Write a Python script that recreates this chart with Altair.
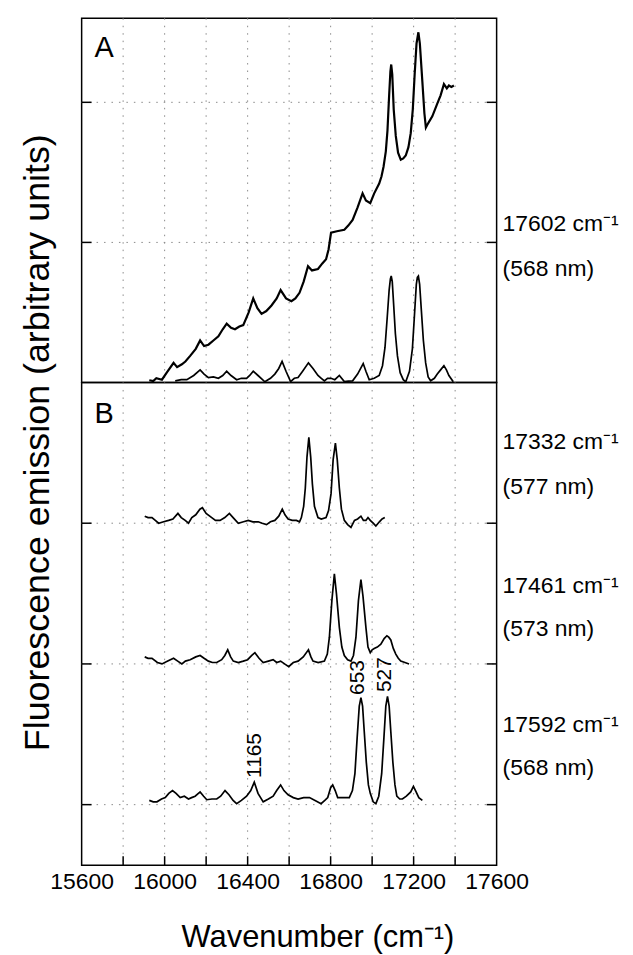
import altair as alt
import pandas as pd

FONT = "Liberation Sans"
W, HA, HB = 417, 366, 485

# ---------------- data ----------------
x_grid = [15800, 16000, 16200, 16400, 16600, 16800, 17000, 17200, 17400]
x_label_values = [15600, 16000, 16400, 16800, 17200, 17600]
yA_ticks = [1, 2]
yB_ticks = [0, 1, 2]

# Panel A: 17602 cm-1 excitation, raw (upper) and background-subtracted (lower)
A_raw = [(15926, 0.016), (15945, 0.01), (15960, 0.03), (15987, 0.02), (16010, 0.07), (16043, 0.14),
         (16060, 0.11), (16083, 0.13), (16100, 0.15), (16123, 0.19), (16150, 0.24), (16171, 0.30),
         (16190, 0.26), (16211, 0.27), (16235, 0.30), (16259, 0.33), (16280, 0.38), (16299, 0.42),
         (16320, 0.39), (16339, 0.38), (16360, 0.40), (16379, 0.41), (16405, 0.50), (16427, 0.60),
         (16447, 0.53), (16467, 0.49), (16490, 0.51), (16515, 0.55), (16540, 0.60), (16559, 0.66),
         (16585, 0.60), (16611, 0.58), (16630, 0.60), (16650, 0.64), (16670, 0.72), (16691, 0.83),
         (16710, 0.80), (16739, 0.81), (16760, 0.85), (16778, 0.88), (16790, 0.95), (16802, 1.07),
         (16830, 1.08), (16866, 1.09), (16885, 1.12), (16906, 1.16), (16930, 1.25), (16954, 1.35),
         (16970, 1.30), (16991, 1.28), (17010, 1.35), (17034, 1.42), (17045, 1.47), (17055, 1.54),
         (17066, 1.65), (17074, 1.80), (17082, 2.05), (17088, 2.22), (17092, 2.27), (17097, 2.20),
         (17104, 1.95), (17114, 1.76), (17125, 1.64), (17138, 1.59), (17150, 1.60), (17162, 1.62),
         (17175, 1.68), (17186, 1.78), (17196, 1.95), (17205, 2.20), (17214, 2.42), (17223, 2.50),
         (17230, 2.42), (17242, 2.15), (17252, 1.92), (17259, 1.82), (17266, 1.84), (17274, 1.86),
         (17290, 1.90), (17314, 1.99), (17330, 2.05), (17346, 2.13), (17360, 2.10), (17370, 2.12),
         (17382, 2.11), (17394, 2.12)]
A_sub = [(16051, 0.012), (16080, 0.02), (16107, 0.02), (16140, 0.05), (16171, 0.09), (16190, 0.06),
         (16211, 0.035), (16235, 0.04), (16259, 0.03), (16280, 0.05), (16299, 0.08), (16320, 0.05),
         (16347, 0.02), (16370, 0.03), (16395, 0.03), (16410, 0.05), (16427, 0.08), (16450, 0.05),
         (16483, 0.005), (16510, 0.03), (16531, 0.06), (16550, 0.10), (16566, 0.15), (16585, 0.08),
         (16607, 0.007), (16625, 0.03), (16643, 0.035), (16665, 0.08), (16693, 0.14), (16715, 0.10),
         (16739, 0.05), (16755, 0.03), (16770, 0.012), (16785, 0.03), (16802, 0.03), (16820, 0.02),
         (16842, 0.05), (16866, 0.007), (16885, 0.01), (16906, 0.012), (16930, 0.06), (16957, 0.135),
         (16970, 0.08), (16986, 0.02), (17010, 0.03), (17034, 0.05), (17050, 0.12), (17062, 0.25),
         (17072, 0.45), (17082, 0.66), (17088, 0.74), (17092, 0.76), (17097, 0.72), (17104, 0.55),
         (17112, 0.35), (17122, 0.19), (17135, 0.07), (17150, 0.02), (17162, 0.005), (17180, 0.08),
         (17194, 0.24), (17204, 0.48), (17213, 0.70), (17218, 0.75), (17223, 0.76), (17229, 0.70),
         (17237, 0.52), (17247, 0.30), (17258, 0.14), (17270, 0.04), (17282, 0.012), (17300, 0.03),
         (17314, 0.06), (17330, 0.09), (17346, 0.12), (17358, 0.09), (17370, 0.05), (17391, 0.005)]

# Panel B: three excitation wavelengths, offset by 1 unit each
B_17332 = [(15904, 2.05), (15920, 2.04), (15939, 2.04), (15955, 2.02), (15971, 2.00), (15995, 2.01),
           (16019, 2.02), (16040, 2.03), (16064, 2.07), (16080, 2.04), (16099, 2.02), (16115, 2.00),
           (16131, 2.04), (16150, 2.06), (16170, 2.10), (16182, 2.11), (16200, 2.07), (16227, 2.04),
           (16245, 2.02), (16267, 2.02), (16290, 2.04), (16312, 2.07), (16330, 2.04), (16355, 2.00),
           (16380, 2.01), (16403, 2.02), (16425, 2.01), (16451, 2.01), (16470, 2.00), (16491, 1.99),
           (16510, 2.01), (16531, 2.02), (16550, 2.05), (16567, 2.10), (16580, 2.06), (16595, 2.03),
           (16615, 2.02), (16635, 2.02), (16650, 2.01), (16659, 2.04), (16670, 2.12), (16678, 2.25),
           (16686, 2.47), (16695, 2.61), (16704, 2.47), (16712, 2.28), (16722, 2.12), (16739, 2.04),
           (16755, 2.03), (16778, 2.04), (16790, 2.09), (16802, 2.21), (16812, 2.45), (16823, 2.57),
           (16832, 2.45), (16842, 2.25), (16852, 2.10), (16866, 2.02), (16882, 1.99), (16898, 1.97),
           (16915, 2.02), (16930, 2.03), (16946, 2.05), (16958, 2.02), (16970, 2.02), (16980, 2.04),
           (16991, 2.02), (17005, 2.00), (17018, 1.98), (17035, 2.01), (17048, 2.03), (17061, 2.04)]
B_17461 = [(15904, 1.05), (15920, 1.04), (15939, 1.04), (15965, 1.01), (15987, 1.00), (16015, 1.02),
           (16043, 1.04), (16063, 1.02), (16083, 1.00), (16100, 1.02), (16123, 1.03), (16150, 1.05),
           (16171, 1.06), (16190, 1.04), (16211, 1.02), (16230, 1.01), (16251, 1.01), (16275, 1.03),
           (16290, 1.06), (16304, 1.10), (16318, 1.05), (16331, 1.02), (16355, 1.01), (16379, 1.02),
           (16400, 1.03), (16420, 1.06), (16435, 1.08), (16455, 1.04), (16475, 1.01), (16500, 1.02),
           (16523, 1.03), (16540, 1.01), (16559, 1.02), (16578, 1.00), (16598, 0.98), (16620, 1.01),
           (16643, 1.02), (16668, 1.05), (16693, 1.10), (16705, 1.05), (16715, 1.02), (16740, 1.01),
           (16770, 1.02), (16784, 1.07), (16794, 1.19), (16806, 1.45), (16818, 1.64), (16828, 1.50),
           (16842, 1.26), (16854, 1.12), (16866, 1.06), (16882, 1.03), (16898, 1.02), (16910, 1.06),
           (16922, 1.19), (16934, 1.45), (16946, 1.60), (16956, 1.48), (16970, 1.26), (16980, 1.12),
           (16991, 1.08), (17000, 1.10), (17010, 1.11), (17025, 1.12), (17042, 1.14), (17058, 1.18),
           (17071, 1.20), (17080, 1.19), (17090, 1.17), (17102, 1.11), (17114, 1.07), (17126, 1.04),
           (17138, 1.02), (17158, 1.01), (17178, 1.00)]
B_17592 = [(15926, 0.03), (15945, 0.02), (15963, 0.02), (15985, 0.04), (16003, 0.05), (16020, 0.08),
           (16038, 0.10), (16055, 0.08), (16075, 0.05), (16095, 0.06), (16115, 0.04), (16130, 0.05),
           (16147, 0.06), (16171, 0.09), (16188, 0.06), (16203, 0.035), (16228, 0.04), (16251, 0.04),
           (16270, 0.06), (16291, 0.10), (16310, 0.07), (16330, 0.03), (16347, 0.007), (16370, 0.03),
           (16395, 0.06), (16415, 0.10), (16432, 0.16), (16450, 0.08), (16475, 0.02), (16500, 0.04),
           (16523, 0.06), (16540, 0.10), (16559, 0.14), (16575, 0.10), (16595, 0.07), (16620, 0.05),
           (16643, 0.04), (16670, 0.05), (16698, 0.05), (16725, 0.03), (16754, 0.007), (16772, 0.03),
           (16786, 0.05), (16800, 0.12), (16810, 0.14), (16822, 0.10), (16834, 0.05), (16860, 0.05),
           (16890, 0.05), (16905, 0.10), (16917, 0.22), (16928, 0.48), (16938, 0.70), (16946, 0.76),
           (16954, 0.70), (16962, 0.52), (16972, 0.30), (16982, 0.14), (16991, 0.08), (17005, 0.02),
           (17018, 0.007), (17032, 0.06), (17046, 0.22), (17057, 0.48), (17066, 0.70), (17074, 0.77),
           (17082, 0.70), (17090, 0.52), (17100, 0.30), (17110, 0.14), (17119, 0.06), (17133, 0.04),
           (17146, 0.04), (17165, 0.06), (17186, 0.09), (17199, 0.13), (17212, 0.09), (17225, 0.05),
           (17242, 0.03)]

# right-hand labels (text, vertical position in panel units)
A_labels = [("17602 cm\u207b\u00b9", 1.08), ("(568 nm)", 0.76)]
B_labels = [("17332 cm\u207b\u00b9", 2.527), ("(577 nm)", 2.208),
            ("17461 cm\u207b\u00b9", 1.506), ("(573 nm)", 1.201),
            ("17592 cm\u207b\u00b9", 0.513), ("(568 nm)", 0.208)]
# peak annotations (text, wavenumber, bottom of text in panel units)
B_peaks = [("1165", 16438, 0.19), ("653", 16934, 0.78), ("527", 17062, 0.80)]


# ---------------- helpers ----------------
def trace_df(points, name, width=1.7):
    return pd.DataFrame({"x": [p[0] for p in points], "y": [p[1] for p in points],
                         "s": name, "w": width})


xs = alt.Scale(domain=[15600, 17600], nice=False, zero=False)
ysA = alt.Scale(domain=[0, 2.6], nice=False, zero=False)
ysB = alt.Scale(domain=[-0.43, 3.0], nice=False, zero=False)

grid_style = dict(color="#8a8a8a", strokeWidth=1, strokeDash=[1.5, 6])


def panel(traces, yscale, yticks, height, labels, letter, letter_y, xaxis, yaxis, peaks=None):
    X = alt.X("x:Q", scale=xs, axis=xaxis)
    Y = alt.Y("y:Q", scale=yscale, axis=yaxis)
    vgrid = alt.Chart(pd.DataFrame({"x": x_grid})).mark_rule(**grid_style).encode(
        x=X, y=alt.value(0), y2=alt.value(height))
    hgrid = alt.Chart(pd.DataFrame({"y": yticks})).mark_rule(**grid_style).encode(
        y=Y, x=alt.value(0), x2=alt.value(W))
    lines = alt.Chart(pd.concat(traces, ignore_index=True)).mark_line(color="black").encode(
        x=X, y=Y, detail="s:N", order="x:Q",
        strokeWidth=alt.StrokeWidth("w:Q", scale=None, legend=None))
    lt = alt.Chart(pd.DataFrame({"y": yticks})).mark_rule(color="black", strokeWidth=1.5).encode(
        y=Y, x=alt.value(0), x2=alt.value(10))
    rt = alt.Chart(pd.DataFrame({"y": yticks})).mark_rule(color="black", strokeWidth=1.5).encode(
        y=Y, x=alt.value(W - 10), x2=alt.value(W))
    lab = alt.Chart(pd.DataFrame({"t": [l[0] for l in labels], "y": [l[1] for l in labels]})).mark_text(
        font=FONT, fontSize=23, align="left", baseline="alphabetic", color="black").encode(
        y=Y, x=alt.value(W + 6), text="t:N")
    let = alt.Chart(pd.DataFrame({"t": [letter]})).mark_text(
        font=FONT, fontSize=29, align="left", baseline="alphabetic", color="black").encode(
        x=alt.value(13), y=alt.value(letter_y), text="t:N")
    layers = [vgrid, hgrid, lines, lt, rt, lab, let]
    if peaks:
        pk = alt.Chart(pd.DataFrame({"t": [p[0] for p in peaks], "x": [p[1] for p in peaks],
                                     "y": [p[2] for p in peaks]})).mark_text(
            font=FONT, fontSize=21, angle=270, align="left", baseline="middle", color="black").encode(
            x=X, y=Y, text="t:N")
        layers.append(pk)
        bt = alt.Chart(pd.DataFrame({"x": x_grid})).mark_rule(color="black", strokeWidth=1.5).encode(
            x=X, y=alt.value(height - 9), y2=alt.value(height))
        layers.append(bt)
    return alt.layer(*layers).properties(width=W, height=height)


axB_x = alt.Axis(values=x_label_values, format="d", grid=False, ticks=False, domain=False,
                 labelFont=FONT, labelFontSize=23, labelColor="black", labelPadding=5,
                 labelFlush=False, labelOverlap=False,
                 title="Wavenumber (cm\u207b\u00b9)", titleFont=FONT, titleFontSize=31,
                 titleFontWeight="normal", titleColor="black",
                 titleX=237, titleY=82, titleAlign="center", titleBaseline="alphabetic")
axB_y = alt.Axis(grid=False, ticks=False, domain=False, labels=False,
                 title="Fluorescence emission (arbitrary units)", titleFont=FONT, titleFontSize=36,
                 titleFontWeight="normal", titleColor="black", titleAngle=270,
                 titleX=-44, titleY=60, titleAlign="center", titleBaseline="middle")

panelA = panel([trace_df(A_raw, "raw", 2.2), trace_df(A_sub, "sub")], ysA, yA_ticks, HA,
               A_labels, "A", 39, None, None)
panelB = panel([trace_df(B_17332, "b1"), trace_df(B_17461, "b2"), trace_df(B_17592, "b3")],
               ysB, yB_ticks, HB, B_labels, "B", 41, axB_x, axB_y, peaks=B_peaks)

chart = alt.vconcat(panelA, panelB, spacing=0, bounds="flush").properties(
    padding={"left": 11, "top": 6, "right": 5, "bottom": 5},
    background="white",
).configure_view(stroke="black", strokeWidth=1.5)

chart.save("out.html", embed_options={"renderer": "svg", "actions": False})
